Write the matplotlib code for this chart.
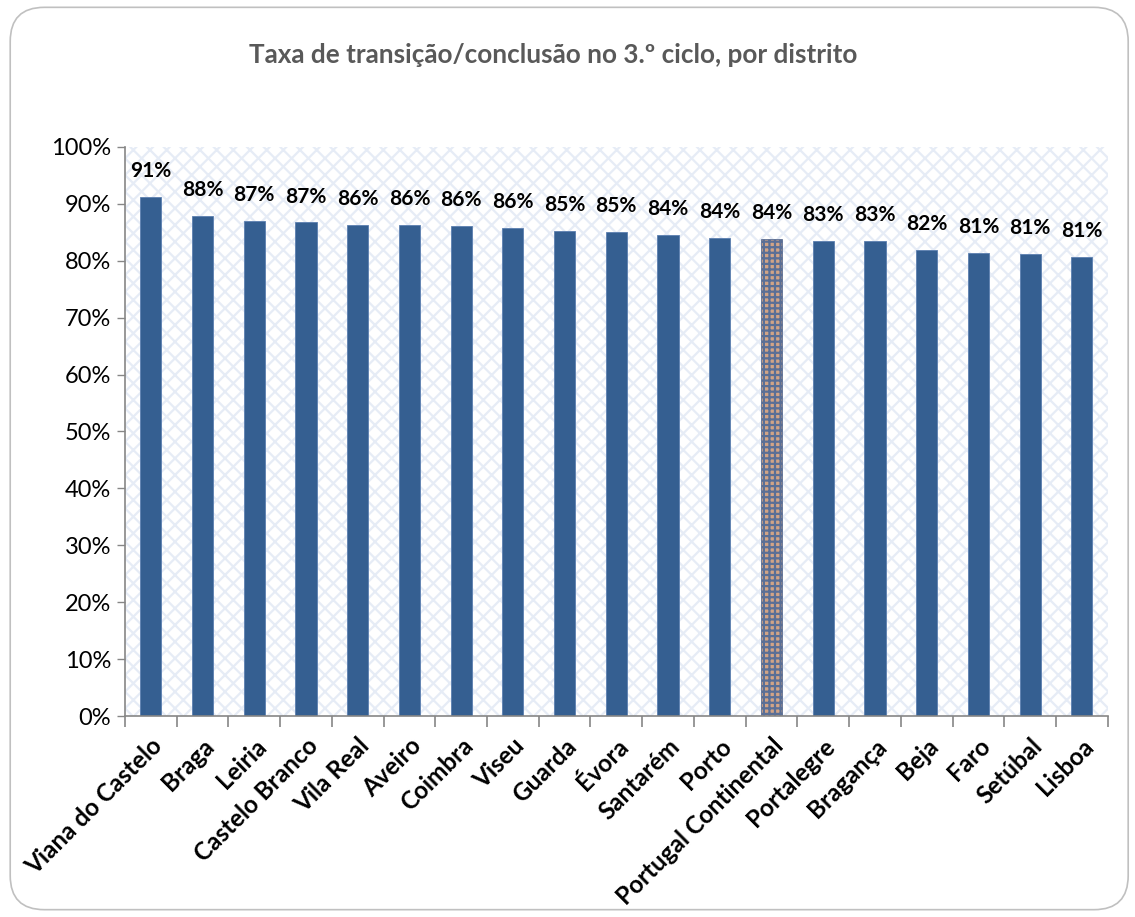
import numpy as np
import matplotlib
matplotlib.use("Agg")
import matplotlib.pyplot as plt
from matplotlib.patches import FancyBboxPatch, Rectangle
from matplotlib.ticker import PercentFormatter

plt.rcParams['font.family'] = ['Lato', 'DejaVu Sans']
plt.rcParams['hatch.linewidth'] = 1.6

distritos = ["Viana do Castelo", "Braga", "Leiria", "Castelo Branco", "Vila Real",
             "Aveiro", "Coimbra", "Viseu", "Guarda", "Évora", "Santarém", "Porto",
             "Portugal Continental", "Portalegre", "Bragança", "Beja", "Faro",
             "Setúbal", "Lisboa"]
taxas = [91.2, 87.8, 86.9, 86.7, 86.2, 86.2, 86.0, 85.8, 85.2, 85.1, 84.5, 84.0,
         83.8, 83.4, 83.4, 81.8, 81.4, 81.1, 80.6]
rotulos = ["91%", "88%", "87%", "87%", "86%", "86%", "86%", "86%", "85%", "85%",
           "84%", "84%", "84%", "83%", "83%", "82%", "81%", "81%", "81%"]
titulo = "Taxa de transição/conclusão no 3.º ciclo, por distrito"

fig = plt.figure(figsize=(11.35, 9.17), dpi=100)
# moldura arredondada do grafico
moldura = FancyBboxPatch((0.009, 0.008), 0.985, 0.984, boxstyle="round,pad=0,rounding_size=0.03",
                         transform=fig.transFigure, facecolor="none", edgecolor="#c0c0c0",
                         linewidth=1.2, mutation_aspect=1135 / 917, zorder=-1)
fig.patches.append(moldura)

ax = fig.add_axes([0.110, 0.219, 0.866, 0.621])
ax.set_facecolor("none")
fundo = Rectangle((0, 0), 1, 1, transform=ax.transAxes, facecolor="white",
                  edgecolor="#e6ecf6", hatch="xx", linewidth=0, zorder=0)
ax.add_patch(fundo)

x = np.arange(len(distritos))
cores = ["#355f91"] * len(distritos)
barras = ax.bar(x, taxas, width=0.41, color=cores, edgecolor="#5b7fb0", linewidth=0.6, zorder=2)
idx_pt = distritos.index("Portugal Continental")
barras[idx_pt].set_facecolor("#d2a486")
barras[idx_pt].set_hatch("+++")
barras[idx_pt].set_edgecolor("#5a6f96")

for xi, v, r in zip(x, taxas, rotulos):
    ax.text(xi, v + 2.8, r, ha="center", va="bottom", fontsize=15, fontweight="bold", color="black")

ax.set_xlim(-0.5, len(distritos) - 0.5)
ax.set_ylim(0, 100)
ax.set_yticks(np.arange(0, 101, 10))
ax.yaxis.set_major_formatter(PercentFormatter(decimals=0))
ax.tick_params(axis="y", labelsize=17, length=6, width=1, color="#868686", pad=4)

ax.set_xticks(x)
ax.set_xticklabels(distritos, rotation=45, ha="right", rotation_mode="anchor",
                   fontsize=17.5, fontweight="bold")
ax.tick_params(axis="x", length=0, pad=13)
ax.set_xticks(np.arange(-0.5, len(distritos), 1), minor=True)
ax.tick_params(axis="x", which="minor", length=8, width=1.2, color="#868686")

for s in ["top", "right"]:
    ax.spines[s].set_visible(False)
for s in ["left", "bottom"]:
    ax.spines[s].set_color("#868686")
    ax.spines[s].set_linewidth(1.2)

fig.text(0.487, 0.940, titulo, ha="center", va="center", fontsize=18.8,
         fontweight="bold", color="#595959")

fig.savefig("out.png", dpi=100)
